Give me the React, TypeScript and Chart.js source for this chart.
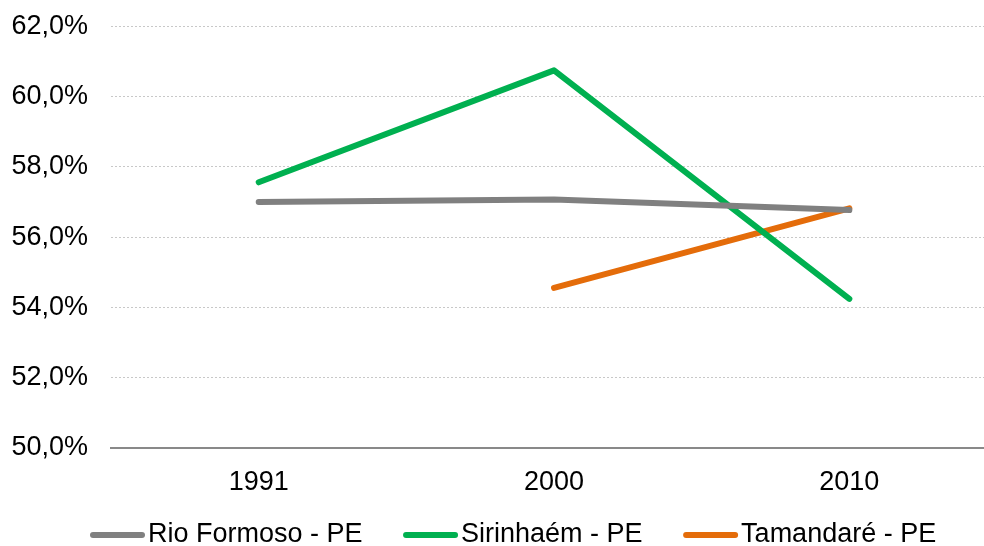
import React, { useEffect, useRef } from "react";
import { Chart, registerables } from "chart.js";

Chart.register(...registerables);

const years = ["1991", "2000", "2010"];
const rioFormoso = [57.0, 57.07, 56.77];
const sirinhaem = [57.56, 60.75, 54.24];
const tamandare = [null, 54.55, 56.82];
const seriesNames = ["Rio Formoso - PE", "Sirinhaém - PE", "Tamandaré - PE"];
const seriesColors = ["#808080", "#00B050", "#E46C0A"];

const FONT = "'Liberation Sans', Arial, sans-serif";

const bottomLegend = {
  id: "bottomLegend",
  afterDraw(chart: any) {
    const ctx = chart.ctx;
    const opts = chart.options.plugins.bottomLegend;
    ctx.save();
    ctx.font = `${opts.fontSize}px ${FONT}`;
    ctx.textBaseline = "alphabetic";
    ctx.textAlign = "left";
    let x = opts.startX;
    chart.data.datasets.forEach((ds: any) => {
      ctx.strokeStyle = ds.borderColor;
      ctx.lineWidth = opts.lineWidth;
      ctx.lineCap = "round";
      ctx.beginPath();
      ctx.moveTo(x + opts.lineWidth / 2, opts.lineY);
      ctx.lineTo(x + opts.lineLength - opts.lineWidth / 2, opts.lineY);
      ctx.stroke();
      x += opts.lineLength + opts.textGap;
      ctx.fillStyle = "#000";
      ctx.fillText(ds.label, x, opts.baselineY);
      x += ctx.measureText(ds.label).width + opts.itemGap;
    });
    ctx.restore();
  },
};

export default function App() {
  const ref = useRef<HTMLCanvasElement | null>(null);
  useEffect(() => {
    if (!ref.current) return;
    const datasets = [rioFormoso, sirinhaem, tamandare].map((d, i) => ({
      label: seriesNames[i],
      data: d,
      borderColor: seriesColors[i],
      backgroundColor: seriesColors[i],
      borderWidth: 6,
      borderCapStyle: "round" as const,
      borderJoinStyle: "round" as const,
      pointRadius: 0,
      pointHoverRadius: 0,
      tension: 0,
      fill: false,
    }));
    const chart = new Chart(ref.current, {
      type: "line",
      data: { labels: years, datasets },
      plugins: [bottomLegend],
      options: {
        responsive: false,
        animation: false,
        devicePixelRatio: 1,
        layout: { padding: { left: 11.5, right: 0, top: 26.5, bottom: 47 } },
        plugins: {
          legend: { display: false },
          tooltip: { enabled: false },
          bottomLegend: {
            startX: 90,
            lineY: 535,
            baselineY: 542,
            lineLength: 55,
            lineWidth: 6,
            textGap: 3,
            itemGap: 40.5,
            fontSize: 27,
          },
        } as any,
        scales: {
          x: {
            offset: true,
            grid: {
              display: true,
              color: "rgba(0,0,0,0)",
              drawTicks: true,
              tickLength: 19,
              tickColor: "rgba(0,0,0,0)",
            },
            border: { display: true, color: "#898989", width: 2 },
            ticks: {
              color: "#000",
              font: { family: FONT, size: 27 },
              padding: 0,
            },
          },
          y: {
            min: 50,
            max: 62,
            grid: {
              drawTicks: true,
              tickLength: 23,
              tickColor: "rgba(0,0,0,0)",
              color: (c: any) => (c.tick && c.tick.value === 50 ? "rgba(0,0,0,0)" : "#c8c8c8"),
              lineWidth: 1,
            },
            border: { display: false, dash: [2, 2] },
            ticks: {
              stepSize: 2,
              color: "#000",
              font: { family: FONT, size: 27 },
              padding: 0,
              callback: (v: any) => Number(v).toFixed(1).replace(".", ",") + "%",
            },
          },
        },
      },
    });
    return () => chart.destroy();
  }, []);
  return (
    <div style={{ position: "fixed", left: 0, top: 0, width: 997, height: 546, background: "#fff" }}>
      <canvas ref={ref} width={997} height={546} style={{ display: "block" }} />
    </div>
  );
}
